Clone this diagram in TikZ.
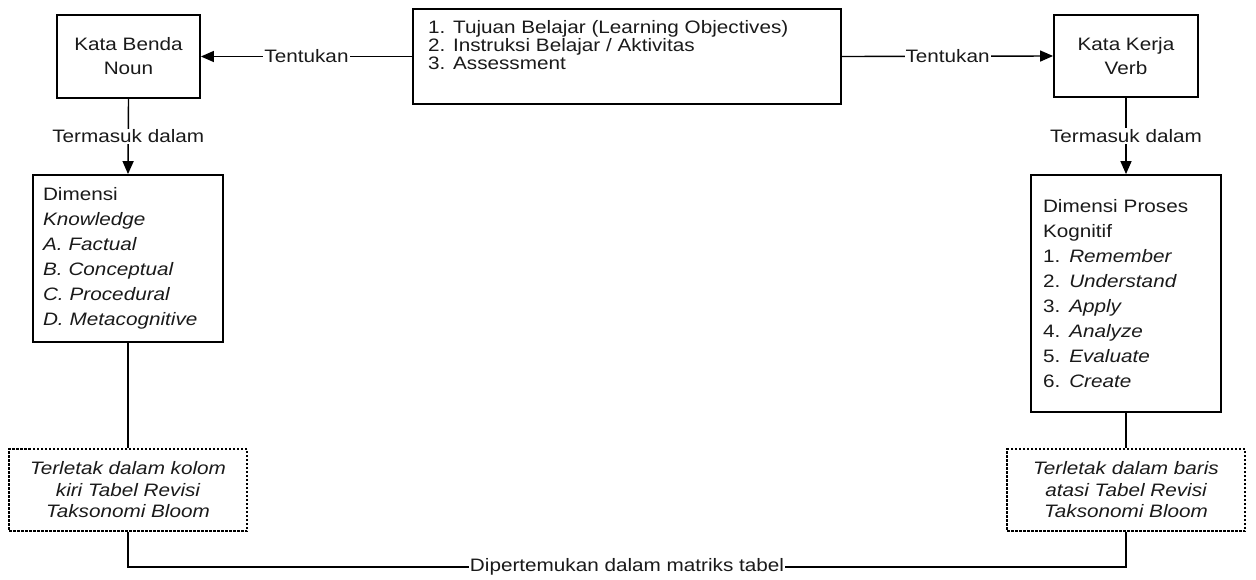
\documentclass[tikz,border=0pt]{standalone}
\usepackage{fontspec}
\setmainfont{Liberation Sans}[FakeStretch=1.15]
\usetikzlibrary{arrows.meta}
\definecolor{txt}{HTML}{1A1A1A}
\begin{document}
\begin{tikzpicture}[x=1pt,y=-1pt,
  box/.style={draw=black,line width=1.8pt,fill=white,inner sep=0pt,text=txt},
  dbox/.style={draw=black,line width=1.5pt,dash pattern=on 2.5pt off 1.5pt,fill=white,inner sep=0pt,text=txt,align=center,font=\fontsize{18}{21.5}\selectfont\itshape},
  conn/.style={draw=black,line width=1.4pt},
  arr/.style={conn,-{Triangle[length=13pt,width=11pt]}},
  lbl/.style={fill=white,inner sep=1pt,text=txt,font=\fontsize{18}{18}\selectfont}
]
\useasboundingbox (0,0) rectangle (1256,579);

% top row
\node[box,minimum width=143pt,minimum height=83pt,align=center,font=\fontsize{18}{24}\selectfont] (noun) at (128.5,56.5) {Kata Benda\\Noun};
\node[box,minimum width=144pt,minimum height=82pt,align=center,font=\fontsize{18}{24}\selectfont] (verb) at (1126,56) {Kata Kerja\\Verb};
\node[box,minimum width=428pt,minimum height=95pt] (obj) at (627,56.5) {};
\node[anchor=west,align=left,inner sep=0pt,text=txt,font=\fontsize{18}{18}\selectfont] (objtxt) at (428,45)
  {1. Tujuan Belajar (Learning Objectives)\\2. Instruksi Belajar / Aktivitas\\3. Assessment};

% dimension boxes
\node[box,minimum height=167pt,text width=170pt,inner xsep=10pt,align=left,font=\fontsize{18}{25}\selectfont] (know) at (128,258.5)
  {Dimensi\\\textit{Knowledge}\\\textit{A. Factual}\\\textit{B. Conceptual}\\\textit{C. Procedural}\\\textit{D. Metacognitive}};
\node[box,minimum height=237pt,text width=166pt,inner xsep=12pt,align=left,font=\fontsize{18}{25}\selectfont] (kog) at (1126,293.5)
  {Dimensi Proses\\Kognitif\\1. \textit{Remember}\\2. \textit{Understand}\\3. \textit{Apply}\\4. \textit{Analyze}\\5. \textit{Evaluate}\\6. \textit{Create}};

% dashed boxes
\node[dbox,minimum width=238pt,minimum height=82pt] (kolom) at (128,490) {Terletak dalam kolom\\kiri Tabel Revisi\\Taksonomi Bloom};
\node[dbox,minimum width=238pt,minimum height=82pt] (baris) at (1126,490) {Terletak dalam baris\\atasi Tabel Revisi\\Taksonomi Bloom};

% connectors
\draw[arr] (obj.west) -- node[lbl] (t1) {Tentukan} (noun.east);
\draw[arr] (obj.east) -- node[lbl] (t2) {Tentukan} (verb.west);
\draw[arr] (noun.south) -- node[lbl] (m1) {Termasuk dalam} (know.north);
\draw[arr] (verb.south) -- node[lbl] (m2) {Termasuk dalam} (kog.north);
\draw[conn] (know.south) -- (kolom.north);
\draw[conn] (kog.south) -- (baris.north);
\coordinate (bl) at (128,567);
\coordinate (br) at (1126,567);
\draw[conn] (kolom.south) -- (bl) -- node[lbl] (dip) {Dipertemukan dalam matriks tabel} (br) -- (baris.south);
\end{tikzpicture}
\end{document}
